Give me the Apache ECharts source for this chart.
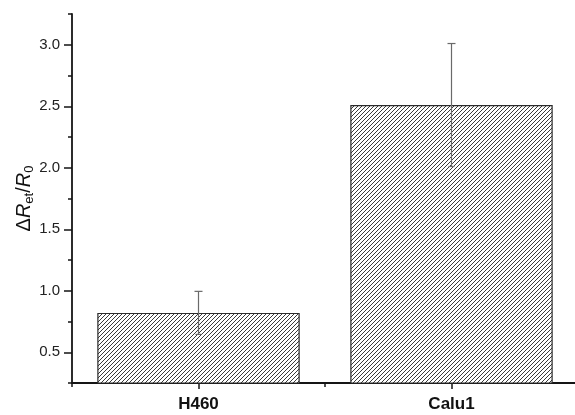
<!DOCTYPE html>
<html>
<head>
<meta charset="utf-8">
<script src="https://cdn.jsdelivr.net/npm/echarts@6/dist/echarts.min.js"></script>
<style>
html,body{margin:0;padding:0;background:#fff;}
#c{width:575px;height:415px;}
</style>
</head>
<body>
<div id="c"></div>
<script>
// ---- data ----
const categories = ['H460', 'Calu1'];
const meanValues = [0.82, 2.51];
const errValues = [0.175, 0.50];
const yMajorTicks = [0.5, 1.0, 1.5, 2.0, 2.5, 3.0];
const yMinorTicks = [0.25, 0.75, 1.25, 1.75, 2.25, 2.75, 3.25];
const yMin = 0.25, yMax = 3.25;

// hatch pattern
function makeHatch() {
  const s = 4;
  const c = document.createElement('canvas');
  c.width = s; c.height = s;
  const g = c.getContext('2d');
  g.fillStyle = '#ffffff';
  g.fillRect(0, 0, s, s);
  g.strokeStyle = '#3a3a3a';
  g.lineWidth = 1;
  g.beginPath();
  g.moveTo(-1, s + 1); g.lineTo(s + 1, -1);
  g.moveTo(-1, 1); g.lineTo(1, -1);
  g.moveTo(s - 1, s + 1); g.lineTo(s + 1, s - 1);
  g.stroke();
  return c;
}

const chart = echarts.init(document.getElementById('c'), null, {renderer: 'canvas'});
const axisColor = '#151515';
const font = 'Liberation Sans, Arial, sans-serif';

const option = {
  animation: false,
  backgroundColor: '#ffffff',
  grid: {left: 72, top: 14, width: 506, height: 369, containLabel: false, outerBoundsMode: 'none'},
  xAxis: [
    {
      type: 'category', data: categories, boundaryGap: true,
      axisLine: {show: true, lineStyle: {color: axisColor, width: 1.8}},
      axisTick: {show: true, alignWithLabel: true, length: 6, lineStyle: {color: axisColor, width: 1.5}},
      axisLabel: {show: true, margin: 13, color: '#111', fontFamily: font, fontWeight: 'bold', fontSize: 17},
      splitLine: {show: false}
    },
    {
      type: 'category', data: categories, boundaryGap: true, position: 'bottom',
      axisLine: {show: false},
      axisTick: {show: true, alignWithLabel: false, interval: 0, length: 4, lineStyle: {color: axisColor, width: 1.5}},
      axisLabel: {show: false},
      splitLine: {show: false}
    }
  ],
  yAxis: [
    {
      type: 'value', min: yMin, max: yMax, interval: 0.25,
      name: '{d|Δ}{i|R}{s|et}{n|/}{i|R}{s|0}',
      nameLocation: 'middle', nameRotate: 90, nameGap: 36, nameMoveOverlap: false,
      nameTextStyle: {
        rich: {
          d: {fontFamily: font, fontSize: 20, color: '#111', lineHeight: 24},
          i: {fontFamily: font, fontSize: 20, fontStyle: 'italic', color: '#111', lineHeight: 24},
          n: {fontFamily: font, fontSize: 20, color: '#111', lineHeight: 24},
          s: {fontFamily: font, fontSize: 13, color: '#111', verticalAlign: 'bottom', lineHeight: 13}
        }
      },
      axisLine: {show: true, lineStyle: {color: axisColor, width: 1.8}},
      axisTick: {show: true, customValues: yMajorTicks, length: 8, lineStyle: {color: axisColor, width: 1.5}},
      axisLabel: {show: true, customValues: yMajorTicks, margin: 12, color: '#222', fontFamily: font, fontSize: 15,
        formatter: v => Number(v).toFixed(1)},
      splitLine: {show: false}
    },
    {
      type: 'value', min: yMin, max: yMax, interval: 0.25, position: 'left',
      axisLine: {show: false},
      axisTick: {show: true, customValues: yMinorTicks, length: 4, lineStyle: {color: axisColor, width: 1.5}},
      axisLabel: {show: false},
      splitLine: {show: false}
    }
  ],
  series: [
    {
      type: 'bar', data: meanValues, barWidth: '80%', xAxisIndex: 0, yAxisIndex: 0,
      itemStyle: {
        color: {image: makeHatch(), repeat: 'repeat'},
        borderColor: '#2a2a2a', borderWidth: 1.2
      },
      z: 2
    },
    {
      type: 'custom', xAxisIndex: 0, yAxisIndex: 0, z: 5,
      data: meanValues.map((m, i) => [i, m - errValues[i], m + errValues[i]]),
      renderItem: function (params, api) {
        const x = api.coord([api.value(0), 0])[0];
        const lo = api.coord([api.value(0), api.value(1)])[1];
        const hi = api.coord([api.value(0), api.value(2)])[1];
        const st = {stroke: '#6a6a6a', lineWidth: 1.2};
        return {
          type: 'group',
          children: [
            {type: 'line', shape: {x1: x, y1: lo, x2: x, y2: hi}, style: st},
            {type: 'line', shape: {x1: x - 4, y1: hi, x2: x + 4, y2: hi}, style: st},
            {type: 'line', shape: {x1: x - 3, y1: lo, x2: x + 3, y2: lo}, style: st}
          ]
        };
      }
    }
  ]
};
chart.setOption(option);
</script>
</body>
</html>
